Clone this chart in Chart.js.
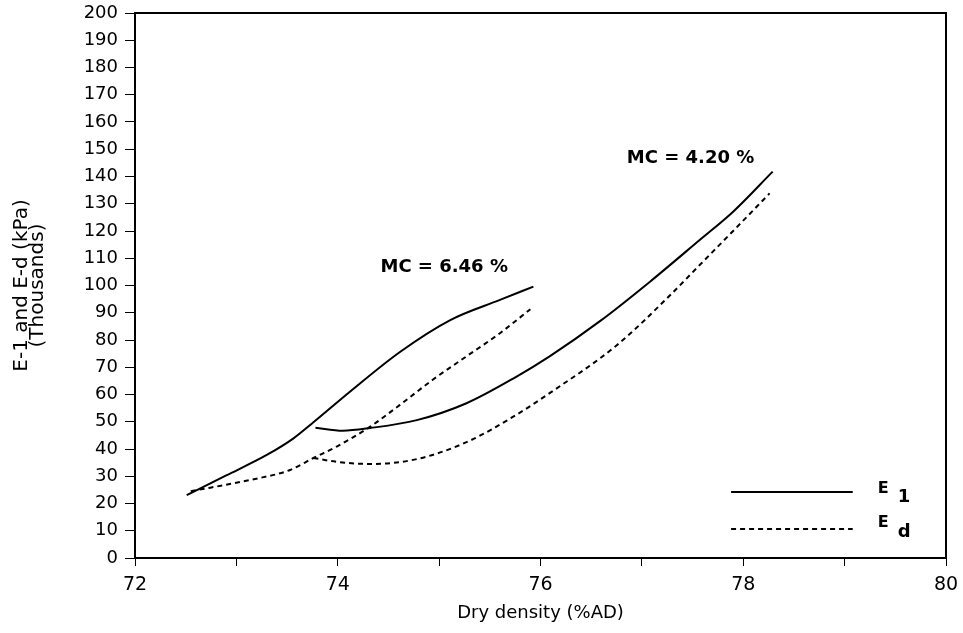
<!DOCTYPE html>
<html>
<head>
<meta charset="utf-8">
<script src="https://cdn.jsdelivr.net/npm/chart.js@4.4.1/dist/chart.umd.min.js"></script>
<style>
  html, body { margin: 0; padding: 0; background: #fff; }
  #wrap { width: 963px; height: 633px; }
</style>
</head>
<body>
<div id="wrap"><canvas id="c" width="963" height="633"></canvas></div>
<script>
// ---- Data ----
const xTickLabels = ['72', '74', '76', '78', '80'];
const yTickLabels = ['0','10','20','30','40','50','60','70','80','90','100','110','120','130','140','150','160','170','180','190','200'];

// MC = 6.46 %
const e1_646_x = [72.51, 72.90, 73.30, 73.56, 73.76, 74.12, 74.61, 75.11, 75.60, 75.93];
const e1_646_y = [23.1, 30.3, 37.8, 43.8, 49.8, 61.0, 75.5, 87.3, 94.7, 99.6];
const ed_646_x = [72.55, 73.13, 73.53, 73.76, 73.99, 74.32, 74.61, 74.94, 75.27, 75.60, 75.90];
const ed_646_y = [24.5, 28.6, 32.3, 36.7, 40.9, 48.2, 56.1, 65.5, 74.0, 82.5, 91.3];

// MC = 4.20 %
const e1_420_x = [73.78, 74.05, 74.32, 74.78, 75.27, 75.76, 76.09, 76.59, 77.08, 77.57, 77.90, 78.29];
const e1_420_y = [47.8, 46.7, 47.7, 50.6, 56.8, 66.5, 74.0, 87.0, 101.4, 116.7, 127.1, 141.8];
const ed_420_x = [73.76, 73.99, 74.32, 74.78, 75.27, 75.76, 76.09, 76.75, 77.24, 77.57, 77.90, 78.26];
const ed_420_y = [36.7, 35.3, 34.5, 36.3, 42.5, 52.5, 60.5, 78.0, 95.0, 107.5, 120.0, 133.8];

const annotationTexts = ['MC = 6.46 %', 'MC = 4.20 %'];
const annotationX = [75.05, 77.48];
const annotationY = [106.8, 146.8];

const legendMain = ['E', 'E'];
const legendSub = ['1', 'd'];

const xTitle = 'Dry density (%AD)';
const yTitle = ['E-1 and E-d (kPa)', '(Thousands)'];

// ---- Build ----
const pts = (xs, ys) => xs.map((x, i) => ({ x: x, y: ys[i] }));
const solid = [];
const dashed = [5, 4];

function ds(label, xs, ys, dash) {
  return {
    label: label,
    data: pts(xs, ys),
    borderColor: '#000',
    backgroundColor: '#000',
    borderWidth: 2,
    borderDash: dash,
    pointRadius: 0,
    showLine: true,
    cubicInterpolationMode: 'monotone',
    fill: false
  };
}

const framePlugin = {
  id: 'frame',
  afterDraw(chart) {
    const { ctx, chartArea: a, scales } = chart;
    ctx.save();
    ctx.strokeStyle = '#000';
    ctx.lineWidth = 2;
    ctx.strokeRect(a.left, a.top, a.right - a.left, a.bottom - a.top);

    // annotations
    ctx.fillStyle = '#000';
    ctx.font = 'bold 18px "DejaVu Sans"';
    ctx.textAlign = 'center';
    ctx.textBaseline = 'middle';
    annotationTexts.forEach((t, i) => {
      ctx.fillText(t, scales.x.getPixelForValue(annotationX[i]), scales.y.getPixelForValue(annotationY[i]));
    });

    // legend
    const lx0 = scales.x.getPixelForValue(77.88);
    const lx1 = scales.x.getPixelForValue(79.08);
    const rows = [a.bottom - 66, a.bottom - 29];
    const mainBase = [a.bottom - 65, a.bottom - 31];
    const subBase = [a.bottom - 56, a.bottom - 21];
    const dashes = [solid, dashed];
    rows.forEach((ry, i) => {
      ctx.beginPath();
      ctx.setLineDash(dashes[i]);
      ctx.lineWidth = 2;
      ctx.moveTo(lx0, ry);
      ctx.lineTo(lx1, ry);
      ctx.stroke();
      ctx.setLineDash([]);
      ctx.textAlign = 'left';
      ctx.textBaseline = 'alphabetic';
      ctx.font = 'bold 16px "DejaVu Sans"';
      ctx.fillText(legendMain[i], lx1 + 25, mainBase[i]);
      ctx.font = 'bold 18px "DejaVu Sans"';
      ctx.fillText(legendSub[i], lx1 + 45, subBase[i]);
    });
    ctx.restore();
  }
};

new Chart(document.getElementById('c'), {
  type: 'scatter',
  data: {
    datasets: [
      ds('E1 MC=6.46', e1_646_x, e1_646_y, solid),
      ds('Ed MC=6.46', ed_646_x, ed_646_y, dashed),
      ds('E1 MC=4.20', e1_420_x, e1_420_y, solid),
      ds('Ed MC=4.20', ed_420_x, ed_420_y, dashed)
    ]
  },
  options: {
    responsive: false,
    animation: false,
    layout: { padding: { top: 13, right: 17, left: 0, bottom: 0 } },
    plugins: { legend: { display: false }, tooltip: { enabled: false } },
    scales: {
      x: {
        type: 'linear',
        min: 72, max: 80,
        afterFit(s) { s.height = 75; s.paddingLeft = 0; s.paddingRight = 0; },
        ticks: {
          stepSize: 1,
          autoSkip: false,
          maxRotation: 0,
          color: '#000',
          padding: 8,
          font: { family: 'DejaVu Sans', size: 19 },
          callback: (v) => { const i = xTickLabels.indexOf(String(v)); return i >= 0 ? xTickLabels[i] : ''; }
        },
        grid: { display: true, drawOnChartArea: false, tickLength: 8, color: '#000', lineWidth: 1 },
        border: { display: true, color: '#000', width: 2 },
        title: {
          display: true, text: xTitle, color: '#000',
          font: { family: 'DejaVu Sans', size: 18, lineHeight: 1.2 },
          padding: { top: 0, bottom: 9 }
        }
      },
      y: {
        type: 'linear',
        min: 0, max: 200,
        afterFit(s) { s.width = 135; s.paddingTop = 0; s.paddingBottom = 0; },
        ticks: {
          stepSize: 10,
          autoSkip: false,
          color: '#000',
          padding: 7,
          font: { family: 'DejaVu Sans', size: 18 },
          callback: (v) => { const i = yTickLabels.indexOf(String(v)); return i >= 0 ? yTickLabels[i] : ''; }
        },
        grid: { display: true, drawOnChartArea: false, tickLength: 10, color: '#000', lineWidth: 1 },
        border: { display: true, color: '#000', width: 2 },
        title: {
          display: true, text: yTitle, color: '#000',
          font: { family: 'DejaVu Sans', size: 20, lineHeight: 0.8 },
          padding: { top: 14, bottom: 0 }
        }
      }
    }
  },
  plugins: [framePlugin]
});
</script>
</body>
</html>
